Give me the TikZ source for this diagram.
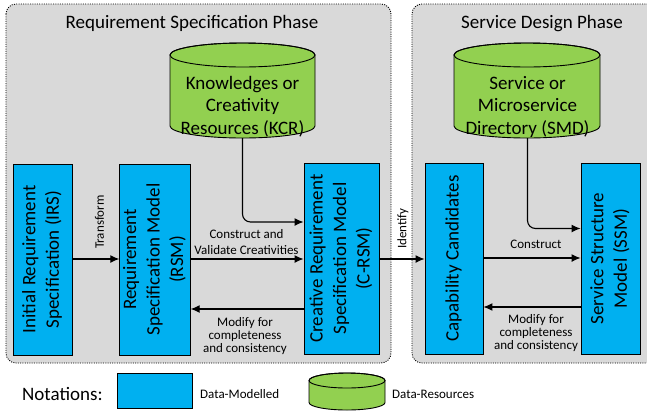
\documentclass[tikz,border=0pt]{standalone}
\usepackage{graphicx}
\usepackage{fontspec}
\setmainfont{Carlito}
\usetikzlibrary{arrows.meta}
\definecolor{modelblue}{HTML}{00B0F0}
\definecolor{resgreen}{HTML}{92D050}
\definecolor{phasegray}{HTML}{D9D9D9}
% vertical multi-line text inside a box
\newcommand\vtext[1]{\rotatebox{90}{\begin{tabular}{@{}c@{}}#1\end{tabular}}}

\begin{document}
\begin{tikzpicture}[x=1pt,y=-1pt,
  phase/.style={fill=phasegray, draw=black, line width=0.9pt,
    dash pattern=on 1pt off 1.3pt, rounded corners=10pt},
  model/.style={draw=black, fill=modelblue, line width=0.9pt, inner sep=0pt,
    font=\fontsize{19}{23.5}\selectfont},
  resource/.style={draw=black, fill=resgreen, line width=0.9pt},
  restext/.style={inner sep=0pt, align=center, font=\fontsize{19}{22.5}\selectfont},
  flow/.style={line width=1.1pt, -{Latex[length=9pt,width=8pt]}},
  lbl/.style={inner sep=0pt, align=center, font=\fontsize{13}{16}\selectfont},
  lbltight/.style={lbl, font=\fontsize{13}{13.3}\selectfont},
  heading/.style={inner sep=0pt, anchor=base, font=\fontsize{19}{22}\selectfont}
]
\clip (0,0) rectangle (647,413);
\fill[white] (0,0) rectangle (647,413);

% phases
\draw[phase] (6,4) rectangle (391,363);
\draw[phase] (412,4) rectangle (670,363);
\node[heading] (reqtitle) at (192,28.5) {Requirement Specification Phase};
\node[heading] (destitle) at (542,28.5) {Service Design Phase};

% resource cylinders
\path[resource] (170,55) -- (170,126)
  arc[start angle=180, end angle=360, x radius=72.5pt, y radius=12pt] -- (315,55)
  arc[start angle=0, end angle=180, x radius=72.5pt, y radius=12pt] -- cycle;
\draw[line width=0.9pt] (242.5,55) ellipse[x radius=72.5pt, y radius=12pt];
\node[restext, minimum width=145pt, minimum height=63pt] (kcr) at (242.5,106.5)
  {Knowledges or\\Creativity\\Resources (KCR)};

\path[resource] (454,55) -- (454,126)
  arc[start angle=180, end angle=360, x radius=73pt, y radius=12pt] -- (600,55)
  arc[start angle=0, end angle=180, x radius=73pt, y radius=12pt] -- cycle;
\draw[line width=0.9pt] (527,55) ellipse[x radius=73pt, y radius=12pt];
\node[restext, minimum width=146pt, minimum height=63pt] (smd) at (527.5,106.5)
  {Service or\\Microservice\\Directory (SMD)};

% data models
\node[model, minimum width=59pt, minimum height=191pt] (irs) at (42.5,259.5)
  {\vtext{Initial Requirement\\Specification (IRS)}};
\node[model, minimum width=68pt, minimum height=191pt] (rsm) at (155,259.5)
  {\vtext{Requirement\\Specification Model\\(RSM)}};
\node[model, minimum width=75pt, minimum height=191pt] (crsm) at (341.5,258.5)
  {\vtext{Creative Requirement\\Specification Model\\(C-RSM)}};
\node[model, minimum width=58pt, minimum height=191pt] (cc) at (454,258.5)
  {\vtext{Capability Candidates}};
\node[model, minimum width=59pt, minimum height=191pt] (ssm) at (610.5,258.5)
  {\vtext{Service Structure\\Model (SSM)}};

% connectors
\draw[flow] (irs.east |- 0,259) -- (rsm.west |- 0,259);
\draw[flow] (rsm.east |- 0,259) -- (crsm.west |- 0,259);
\draw[flow] (crsm.west |- 0,309) -- (rsm.east |- 0,309);
\draw[flow, rounded corners=8pt] (kcr.south) |- (crsm.west |- 0,222);
\draw[flow] (crsm.east |- 0,259) -- (cc.west |- 0,259);
\draw[flow] (cc.east |- 0,258) -- (ssm.west |- 0,258);
\draw[flow] (ssm.west |- 0,307) -- (cc.east |- 0,307);
\draw[flow, rounded corners=8pt] (smd.south) |- (ssm.west |- 0,228.5);

% connector labels
\node[lbl, rotate=90, anchor=west] (transform) at (99.5,249) {Transform};
\node[lbl, anchor=south] (construct1) at (246.5,254.5) {Construct and\\Validate Creativities};
\node[lbltight, anchor=north] (modify1) at (245,317) {Modify for\\completeness\\and consistency};
\node[lbl, rotate=90, anchor=west] (identify) at (403,249) {Identify};
\node[lbl, anchor=base] (construct2) at (536,248) {Construct};
\node[lbltight, anchor=north] (modify2) at (536,314) {Modify for\\completeness\\and consistency};

% notations
\node[inner sep=0pt, anchor=base west, font=\fontsize{19}{22}\selectfont] (notations) at (22,400.5) {Notations:};
\node[model, minimum width=75pt, minimum height=35pt] (legmodel) at (154.5,390.5) {};
\node[lbl, anchor=base west] (legmodeltext) at (200,398.5) {Data-Modelled};
\path[resource] (309,380.5) -- (309,402.5)
  arc[start angle=180, end angle=360, x radius=38pt, y radius=7.5pt] -- (385,380.5)
  arc[start angle=0, end angle=180, x radius=38pt, y radius=7.5pt] -- cycle;
\draw[line width=0.9pt] (347,380.5) ellipse[x radius=38pt, y radius=7.5pt];
\node[lbl, anchor=base west] (legrestext) at (392,398.5) {Data-Resources};
\end{tikzpicture}
\end{document}
